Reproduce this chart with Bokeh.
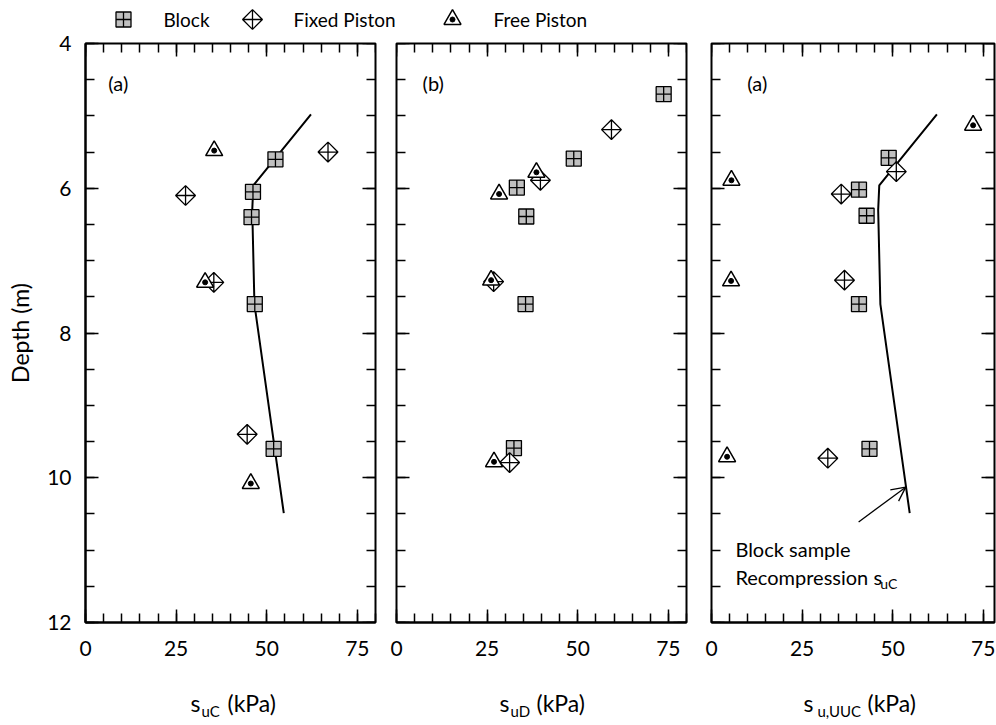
import numpy as np
from bokeh.plotting import figure
from bokeh.models import (Range1d, LinearAxis, FixedTicker, Label, Arrow, OpenHead)
from bokeh.layouts import column, row
from bokeh.embed import file_html
from bokeh.resources import INLINE

FONT = "Lato"

# ---------------- data ----------------
# Block sample recompression s_uC line (shown in panels 1 and 3)
line_depth = [4.98, 5.96, 6.3, 7.6, 10.49]
line_su = [62.2, 46.3, 46.0, 46.6, 54.7]

# Panel 1: s_uC
c_block_depth = [5.6, 6.05, 6.4, 7.6, 9.6]
c_block_su = [52.4, 46.2, 45.8, 46.7, 51.9]
c_fixed_depth = [5.5, 6.1, 7.3, 9.4]
c_fixed_su = [66.9, 27.6, 35.4, 44.6]
c_free_depth = [5.48, 7.3, 10.08]
c_free_su = [35.5, 33.0, 45.6]

# Panel 2: s_uD
d_block_depth = [4.7, 5.59, 5.99, 6.39, 7.6, 9.59]
d_block_su = [73.7, 48.9, 33.2, 35.8, 35.6, 32.4]
d_fixed_depth = [5.19, 5.89, 7.29, 9.79]
d_fixed_su = [59.3, 39.7, 26.8, 31.2]
d_free_depth = [5.78, 6.08, 7.27, 9.78]
d_free_su = [38.6, 28.3, 26.1, 26.9]

# Panel 3: s_u,UUC
u_block_depth = [5.58, 6.02, 6.38, 7.6, 9.6]
u_block_su = [48.9, 40.7, 42.8, 40.7, 43.6]
u_fixed_depth = [5.77, 6.08, 7.27, 9.73]
u_fixed_su = [51.0, 35.8, 36.7, 32.1]
u_free_depth = [5.13, 5.89, 7.28, 9.71]
u_free_su = [72.2, 5.5, 5.4, 4.3]

x_major = [0, 25, 50, 75]
x_minor = list(range(0, 81, 5))
y_major = [4, 6, 8, 10, 12]
y_minor = [float(v) for v in np.arange(4, 12.01, 0.5)]

series_names = ["Block", "Fixed Piston", "Free Piston"]
panel_tags = ["(a)", "(b)", "(a)"]
x_titles = [("uC", 190, 201, 227), ("uD", 499, 510, 536), ("u,UUC", 803, 817, 867)]
legend_slots = [123, 252, 452]   # swatch centres in the legend strip (px)
legend_text_x = [163, 293, 493]

BLOCK = dict(marker="square_cross", size=15, fill_color="#c0c0c0", line_color="black", line_width=1.3)
FIXED = dict(marker="square_x", size=14, angle=np.pi / 4, fill_color="white", line_color="black", line_width=1.3)
FREE = dict(marker="triangle", size=17, fill_color="white", line_color="black", line_width=1.5)
FREE_DOT = dict(marker="circle", size=5, fill_color="black", line_color="black", line_width=1)


def tick_style(ax):
    ax.major_tick_in = 13
    ax.major_tick_out = 0
    ax.minor_tick_in = 9
    ax.minor_tick_out = 0
    ax.major_tick_line_color = "black"
    ax.minor_tick_line_color = "black"
    ax.major_tick_line_width = 1.5
    ax.minor_tick_line_width = 1.5


def add_bare_ticks(p, side, loc, major, minor):
    """Tick marks without labels, drawn at a fixed data location on the frame edge."""
    for ticks, length in ((minor, 9), (major, 13)):
        ax = LinearAxis(ticker=FixedTicker(ticks=[], minor_ticks=list(ticks)),
                        fixed_location=loc)
        ax.axis_line_color = None
        ax.major_tick_line_color = None
        ax.minor_tick_in = length
        ax.minor_tick_out = 0
        ax.minor_tick_line_color = "black"
        ax.minor_tick_line_width = 1.5
        p.add_layout(ax, side)


def make_fig(width, left, right, xend, ylabels):
    p = figure(width=width, height=650, x_range=Range1d(0, xend), y_range=Range1d(12, 4),
               output_backend="svg", toolbar_location=None, title=None,
               y_axis_location="left" if ylabels else None,
               min_border_left=left, min_border_right=right,
               min_border_top=13, min_border_bottom=58)
    p.grid.visible = False
    p.outline_line_color = "black"
    p.outline_line_width = 2
    p.background_fill_color = "white"
    p.border_fill_color = "white"
    xt = FixedTicker(ticks=x_major, minor_ticks=x_minor)
    p.xaxis.ticker = xt
    for ax in p.xaxis:
        tick_style(ax)
        ax.axis_line_color = "black"
        ax.axis_line_width = 2
        ax.major_label_text_font = FONT
        ax.major_label_text_font_size = "21px"
        ax.major_label_text_color = "black"
        ax.major_label_standoff = 18
    if ylabels:
        p.yaxis.ticker = FixedTicker(ticks=y_major, minor_ticks=y_minor)
        for ax in p.yaxis:
            tick_style(ax)
            ax.axis_line_color = "black"
            ax.axis_line_width = 2
            ax.major_label_text_font = FONT
            ax.major_label_text_font_size = "21px"
            ax.major_label_text_color = "black"
            ax.major_label_standoff = 14
            ax.axis_label = "Depth (m)"
            ax.axis_label_text_font = FONT
            ax.axis_label_text_font_size = "23px"
            ax.axis_label_text_font_style = "normal"
            ax.axis_label_text_color = "black"
            ax.axis_label_standoff = 10
    else:
        add_bare_ticks(p, "left", 0, y_major, y_minor)
    add_bare_ticks(p, "above", 4, x_major, x_minor)
    add_bare_ticks(p, "right", xend, y_major, y_minor)
    return p


def add_tag(p, x, text):
    p.add_layout(Label(x=x, y=4.55, text=text, text_font=FONT, text_font_size="20px",
                       text_baseline="middle", text_align="left", text_color="black"))


def add_points(p, bx, by, fx, fy, tx, ty):
    p.scatter(bx, by, **BLOCK)
    p.scatter(fx, fy, **FIXED)
    p.scatter(tx, ty, **FREE)
    p.scatter(tx, ty, **FREE_DOT)


def strip(height):
    s = figure(width=996, height=height, x_range=Range1d(0, 996), y_range=Range1d(height, 0),
               x_axis_type=None, y_axis_type=None, output_backend="svg", title=None,
               toolbar_location=None, min_border=0)
    s.grid.visible = False
    s.outline_line_color = None
    return s


# ---------------- panel 1 ----------------
p1 = make_fig(385, 85, 10, 80, True)
p1.line(line_su, line_depth, line_color="black", line_width=2)
add_points(p1, c_block_su, c_block_depth, c_fixed_su, c_fixed_depth, c_free_su, c_free_depth)
add_tag(p1, 6.3, panel_tags[0])

# ---------------- panel 2 ----------------
p2 = make_fig(313, 11, 12, 80, False)
add_points(p2, d_block_su, d_block_depth, d_fixed_su, d_fixed_depth, d_free_su, d_free_depth)
add_tag(p2, 7.2, panel_tags[1])

# ---------------- panel 3 ----------------
p3 = make_fig(298, 13, 2, 78.1, False)
p3.line(line_su, line_depth, line_color="black", line_width=2)
add_points(p3, u_block_su, u_block_depth, u_fixed_su, u_fixed_depth, u_free_su, u_free_depth)
add_tag(p3, 9.9, panel_tags[2])
p3.add_layout(Arrow(end=OpenHead(size=14, line_width=1.3, line_color="black"),
                    x_start=40.6, y_start=10.61, x_end=53.6, y_end=10.13,
                    line_width=1.3, line_color="black"))
ann = dict(text_font=FONT, text_baseline="alphabetic", text_color="black")
p3.add_layout(Label(x=6.6, y=10.98, text="Block sample", text_font_size="20px", **ann))
p3.add_layout(Label(x=6.6, y=11.37, text="Recompression s", text_font_size="20px", **ann))
p3.add_layout(Label(x=46.6, y=11.46, text="uC", text_font_size="14px", **ann))

# ---------------- legend strip (top) ----------------
lg = strip(30)
for style, cx in zip([BLOCK, FIXED, FREE], legend_slots):
    lg.scatter([cx], [19], **style)
lg.scatter([legend_slots[2]], [19], **FREE_DOT)
for name, tx in zip(series_names, legend_text_x):
    lg.add_layout(Label(x=tx, y=19, text=name, text_font=FONT, text_font_size="19px",
                        text_baseline="middle", text_color="black"))

# ---------------- x-axis titles strip (bottom) ----------------
bt = strip(45)
for sub, xs, xsub, xk in x_titles:
    bt.add_layout(Label(x=xs, y=22, text="s", text_font_size="23px", **ann))
    bt.add_layout(Label(x=xsub, y=30, text=sub, text_font_size="15px", **ann))
    bt.add_layout(Label(x=xk, y=22, text="(kPa)", text_font_size="23px", **ann))

layout = column(lg, row(p1, p2, p3), bt)
open("out.html", "w").write(file_html(layout, INLINE))
